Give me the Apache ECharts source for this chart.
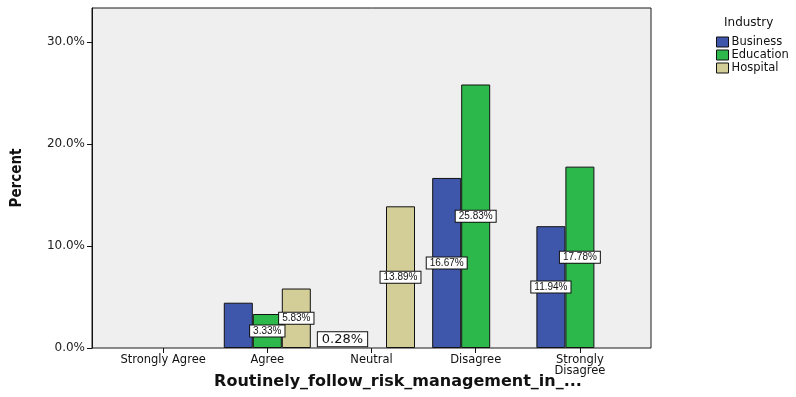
<!DOCTYPE html>
<html>
<head>
<meta charset="utf-8">
<script src="https://cdn.jsdelivr.net/npm/echarts@6/dist/echarts.min.js"></script>
<style>
  html, body { margin: 0; padding: 0; background: #fff; }
  #main { width: 796px; height: 397px; }
</style>
</head>
<body>
<div id="main"></div>
<script>
var categories = ['Strongly Agree', 'Agree', 'Neutral', 'Disagree', 'Strongly\nDisagree'];
var seriesNames = ['Business', 'Education', 'Hospital'];
// percent values per industry (null = no bar)
var business = [null, 4.44, 0.28, 16.67, 11.94];
var education = [null, 3.33, null, 25.83, 17.78];
var hospital = [null, 5.83, 13.89, null, null];
// which bars carry a value label
var businessLabels = [false, false, true, true, true];
var educationLabels = [false, true, false, true, true];
var hospitalLabels = [false, true, true, false, false];
var yTicks = [0, 10, 20, 30];

var colors = ['#3f57ab', '#2db84b', '#d3cd97'];

var chart = echarts.init(document.getElementById('main'));

var labelStyle = {
  position: 'inside',
  color: '#111',
  fontFamily: 'Liberation Sans',
  fontSize: 10,
  backgroundColor: '#fff',
  borderColor: '#111',
  borderWidth: 1,
  padding: [1, 3, 0, 3],
  formatter: function (p) { return p.value.toFixed(2) + '%'; }
};

function buildData(vals, flags, name) {
  var out = [];
  for (var i = 0; i < vals.length; i++) {
    var item = { value: vals[i], label: { show: flags[i] } };
    // the tiny 0.28% business bar is hidden behind its large label box
    if (name === 'Business' && categories[i] === 'Neutral') {
      item.itemStyle = { color: 'rgba(0,0,0,0)', borderWidth: 0 };
      item.label = { show: true, position: 'top', distance: 1, offset: [0, 2], fontFamily: 'DejaVu Sans', fontSize: 13, padding: [1, 4, 0, 4] };
    }
    out.push(item);
  }
  return out;
}

var option = {
  animation: false,
  backgroundColor: '#fff',
  title: {
    text: 'Industry',
    left: 719,
    top: 12,
    textStyle: { fontFamily: 'DejaVu Sans', fontSize: 12, fontWeight: 'normal', color: '#111' }
  },
  legend: {
    orient: 'vertical',
    left: 711,
    top: 31,
    itemWidth: 12,
    itemHeight: 10,
    itemGap: 1,
    icon: 'rect',
    data: seriesNames,
    itemStyle: { borderColor: '#111', borderWidth: 1 },
    textStyle: { fontFamily: 'DejaVu Sans', fontSize: 11.5, color: '#111', padding: [0, 0, 0, -2] }
  },
  grid: [
    { left: 92, right: 145, top: 8, bottom: 49, show: true, backgroundColor: '#efefef', borderColor: '#1a1a1a', borderWidth: 1, z: 0 },
    { left: 111, right: 164, top: 8, bottom: 49 }
  ],
  xAxis: [
    { gridIndex: 0, type: 'value', show: false, min: 0, max: 1 },
    {
      gridIndex: 1,
      type: 'category',
      data: categories,
      axisLine: { show: false },
      axisTick: { show: true, alignWithLabel: true, length: 5, lineStyle: { color: '#111' } },
      axisLabel: { fontFamily: 'DejaVu Sans', fontSize: 11.5, color: '#111', margin: 7, lineHeight: 11, interval: 0 },
      splitLine: { show: false }
    }
  ],
  yAxis: [
    {
      gridIndex: 0,
      type: 'value',
      min: 0,
      max: 33.33,
      name: 'Percent',
      nameLocation: 'middle',
      nameGap: 67,
      nameTextStyle: { fontFamily: 'DejaVu Sans Condensed', fontSize: 15, fontWeight: 'bold', color: '#111' },
      axisLine: { show: true, lineStyle: { color: '#111' } },
      axisTick: { show: true, length: 5, customValues: yTicks, lineStyle: { color: '#111' } },
      axisLabel: {
        customValues: yTicks,
        fontFamily: 'DejaVu Sans',
        fontSize: 12,
        color: '#222',
        margin: 7,
        formatter: function (v) { return v.toFixed(1) + '%'; }
      },
      splitLine: { show: false }
    },
    { gridIndex: 1, type: 'value', min: 0, max: 33.33, show: false, splitLine: { show: false } }
  ],
  graphic: [
    {
      type: 'text',
      left: 'center',
      top: 374,
      style: {
        text: 'Routinely_follow_risk_management_in_...',
        fontFamily: 'DejaVu Sans',
        fontSize: 16,
        fontWeight: 'bold',
        fill: '#111'
      }
    }
  ],
  series: [
    { name: 'Business', data: buildData(business, businessLabels, 'Business') },
    { name: 'Education', data: buildData(education, educationLabels, 'Education') },
    { name: 'Hospital', data: buildData(hospital, hospitalLabels, 'Hospital') }
  ].map(function (s, i) {
    return {
      name: s.name,
      type: 'bar',
      xAxisIndex: 1,
      yAxisIndex: 1,
      data: s.data,
      barGap: '0%',
      barCategoryGap: '16.5%',
      itemStyle: { color: colors[i], borderColor: '#111', borderWidth: 1 },
      label: labelStyle,
      z: 3
    };
  })
};

chart.setOption(option);
</script>
</body>
</html>
